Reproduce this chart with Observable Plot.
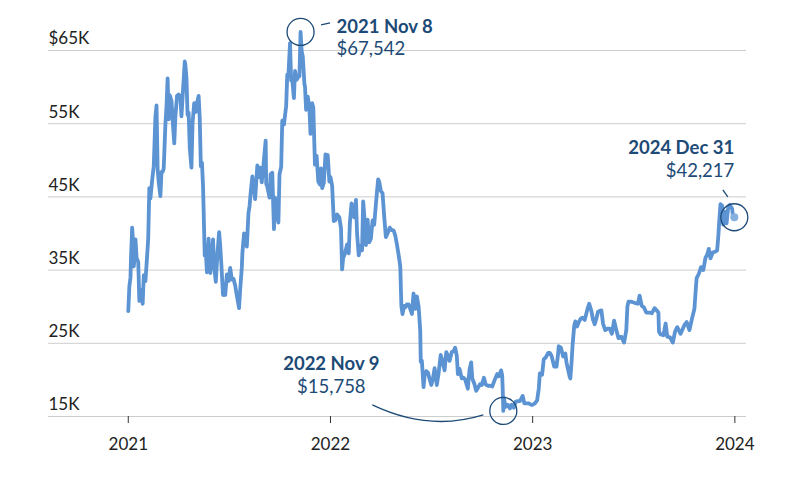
<!DOCTYPE html>
<html><head><meta charset="utf-8">
<script src="https://cdn.jsdelivr.net/npm/d3@7"></script>
<script src="https://cdn.jsdelivr.net/npm/@observablehq/plot@0.6"></script>
<style>html,body{margin:0;padding:0;background:#fff;}</style>
</head><body><div id="chart"></div>
<script>
// Daily-ish Bitcoin closing prices (USD)
const dates = [
"2021-01-01","2021-01-03","2021-01-05","2021-01-06","2021-01-08","2021-01-10","2021-01-11","2021-01-13","2021-01-14","2021-01-16","2021-01-19","2021-01-21","2021-01-23","2021-01-25","2021-01-27","2021-01-29",
"2021-02-01","2021-02-04","2021-02-06","2021-02-08","2021-02-10","2021-02-13","2021-02-16","2021-02-19","2021-02-21","2021-02-23","2021-02-25","2021-02-28",
"2021-03-02","2021-03-04","2021-03-06","2021-03-09","2021-03-11","2021-03-13","2021-03-15","2021-03-17","2021-03-20","2021-03-23","2021-03-25","2021-03-27","2021-03-30",
"2021-04-02","2021-04-05","2021-04-07","2021-04-10","2021-04-13","2021-04-14","2021-04-16","2021-04-18","2021-04-20","2021-04-22","2021-04-25","2021-04-27","2021-04-30",
"2021-05-03","2021-05-05","2021-05-08","2021-05-10","2021-05-12","2021-05-14","2021-05-16","2021-05-19","2021-05-21","2021-05-23","2021-05-26","2021-05-29",
"2021-06-01","2021-06-03","2021-06-05","2021-06-08","2021-06-11","2021-06-14","2021-06-16","2021-06-18","2021-06-21","2021-06-22","2021-06-25","2021-06-28",
"2021-07-01","2021-07-04","2021-07-07","2021-07-10","2021-07-13","2021-07-16","2021-07-20","2021-07-22","2021-07-25","2021-07-26","2021-07-29",
"2021-08-01","2021-08-03","2021-08-06","2021-08-08","2021-08-10","2021-08-13","2021-08-16","2021-08-18","2021-08-22","2021-08-24","2021-08-27","2021-08-30",
"2021-09-02","2021-09-06","2021-09-07","2021-09-09","2021-09-13","2021-09-15","2021-09-18","2021-09-20","2021-09-21","2021-09-23","2021-09-26","2021-09-29",
"2021-10-01","2021-10-04","2021-10-06","2021-10-09","2021-10-13","2021-10-15","2021-10-17","2021-10-20","2021-10-22","2021-10-24","2021-10-27","2021-10-29",
"2021-11-01","2021-11-04","2021-11-06","2021-11-08","2021-11-10","2021-11-12","2021-11-15","2021-11-16","2021-11-18","2021-11-21","2021-11-24","2021-11-26","2021-11-29",
"2021-12-01","2021-12-04","2021-12-07","2021-12-10","2021-12-13","2021-12-15","2021-12-17","2021-12-20","2021-12-23","2021-12-27","2021-12-30",
"2022-01-01","2022-01-04","2022-01-07","2022-01-10","2022-01-13","2022-01-17","2022-01-20","2022-01-22","2022-01-24","2022-01-27","2022-01-31",
"2022-02-03","2022-02-05","2022-02-08","2022-02-10","2022-02-13","2022-02-16","2022-02-18","2022-02-21","2022-02-24","2022-02-27",
"2022-03-01","2022-03-03","2022-03-06","2022-03-09","2022-03-12","2022-03-15","2022-03-18","2022-03-21","2022-03-24","2022-03-28","2022-03-30",
"2022-04-02","2022-04-05","2022-04-08","2022-04-11","2022-04-14","2022-04-18","2022-04-21","2022-04-25","2022-04-28",
"2022-05-01","2022-05-05","2022-05-07","2022-05-09","2022-05-11","2022-05-14","2022-05-16","2022-05-19","2022-05-22","2022-05-25","2022-05-28","2022-05-31",
"2022-06-03","2022-06-06","2022-06-09","2022-06-12","2022-06-13","2022-06-15","2022-06-18","2022-06-20","2022-06-23","2022-06-26","2022-06-29",
"2022-07-02","2022-07-05","2022-07-08","2022-07-12","2022-07-15","2022-07-19","2022-07-22","2022-07-26","2022-07-29",
"2022-08-01","2022-08-04","2022-08-08","2022-08-11","2022-08-14","2022-08-17","2022-08-19","2022-08-22","2022-08-26","2022-08-29",
"2022-09-01","2022-09-06","2022-09-09","2022-09-12","2022-09-14","2022-09-18","2022-09-21","2022-09-24","2022-09-28",
"2022-10-01","2022-10-05","2022-10-08","2022-10-12","2022-10-16","2022-10-20","2022-10-25","2022-10-29",
"2022-11-01","2022-11-05","2022-11-07","2022-11-08","2022-11-09","2022-11-10","2022-11-13","2022-11-17","2022-11-21","2022-11-24","2022-11-28",
"2022-12-01","2022-12-05","2022-12-09","2022-12-14","2022-12-17","2022-12-21","2022-12-25","2022-12-29",
"2023-01-01","2023-01-05","2023-01-09","2023-01-12","2023-01-14","2023-01-18","2023-01-21","2023-01-25","2023-01-29",
"2023-02-01","2023-02-04","2023-02-09","2023-02-13","2023-02-16","2023-02-17","2023-02-21","2023-02-25",
"2023-03-01","2023-03-03","2023-03-09","2023-03-10","2023-03-12","2023-03-14","2023-03-17","2023-03-19","2023-03-22","2023-03-26","2023-03-29",
"2023-04-01","2023-04-05","2023-04-10","2023-04-13","2023-04-17","2023-04-20","2023-04-23","2023-04-26","2023-04-29",
"2023-05-05","2023-05-08","2023-05-12","2023-05-16","2023-05-20","2023-05-24","2023-05-28",
"2023-06-01","2023-06-05","2023-06-10","2023-06-15","2023-06-19","2023-06-21","2023-06-23","2023-06-27",
"2023-07-01","2023-07-05","2023-07-10","2023-07-13","2023-07-17","2023-07-21","2023-07-25","2023-07-31",
"2023-08-04","2023-08-09","2023-08-14","2023-08-16","2023-08-17","2023-08-20","2023-08-25","2023-08-29",
"2023-09-01","2023-09-06","2023-09-11","2023-09-15","2023-09-19","2023-09-25","2023-09-29",
"2023-10-02","2023-10-06","2023-10-11","2023-10-16","2023-10-20","2023-10-23","2023-10-24","2023-10-28",
"2023-11-01","2023-11-05","2023-11-09","2023-11-12","2023-11-15","2023-11-18","2023-11-22","2023-11-26","2023-11-30",
"2023-12-02","2023-12-04","2023-12-06","2023-12-09","2023-12-11","2023-12-14","2023-12-17","2023-12-20","2023-12-23","2023-12-27","2023-12-29","2023-12-31"
];
const prices = [
29400,32800,34000,36800,40800,38400,35500,37300,39200,36700,36100,30800,32100,32300,30400,34300,
33500,36900,39300,46200,44800,47200,49200,55900,57500,48800,47000,45100,
48400,48400,48900,54900,57300,61200,55600,58900,58100,54500,52300,55900,58800,
59000,58700,56000,59800,63500,63100,61300,56200,56500,51700,49000,55000,57800,
56600,57800,58800,55800,49200,49700,46400,37000,37500,34700,39300,34600,
36700,39200,35500,33400,37300,40200,38300,35800,31600,32500,31600,34400,
33500,35300,33700,33800,32900,31500,29800,32300,35400,37300,40000,
39800,38200,42800,43800,45600,47800,46000,44700,49300,47700,49000,47000,
49300,52700,46800,46400,44900,48100,48300,43000,40600,44900,43200,41500,
48100,49100,55400,54900,57400,61700,61500,66000,60900,61000,58500,62200,
61000,61400,61500,67542,64900,64200,60400,60100,56900,58700,57100,53600,57800,
57200,49400,50600,47100,46700,48900,46200,46900,50800,50700,47100,
47700,46500,41700,41800,42600,42200,40700,35100,36700,37200,38500,
37300,41400,44100,43600,42200,44600,40000,37000,38300,37700,
44400,42500,38400,41900,38800,39300,41800,41200,44000,47400,47100,
45800,45500,42300,39500,40000,40800,40500,40400,39700,
38500,36600,35500,30100,29000,30100,29900,30300,30300,29700,29000,31800,
29700,31400,30100,26800,22500,22600,19000,20600,21200,21000,20100,
19300,20200,21600,19300,20800,23400,22600,21300,23800,
23300,22600,23800,23900,24400,23300,20800,21500,20200,20300,
20100,18800,21400,22400,20200,19400,18500,18900,19400,
19300,20300,19400,19200,19200,19100,20100,20800,
20500,21300,20600,18500,15758,17600,16300,16600,16100,16600,16200,
17000,17100,17100,17800,16800,16800,16800,16600,
16600,16800,17200,18800,20900,20700,22800,23100,23700,
23700,23300,21800,21800,23600,24600,24400,23200,
23600,22400,20400,20200,22200,24700,27400,28000,27300,28000,28400,
28500,28200,29700,30400,29400,28200,27600,28400,29300,
29500,27700,26800,27000,27000,26300,28100,
26800,25700,25900,25100,26800,30000,30700,30700,
30600,30500,30400,31500,30100,29900,29200,29200,
29100,29800,29400,29200,26600,26200,26100,27700,
25900,25800,25100,26600,27200,26300,27000,
27500,27900,26800,28500,29700,33000,33900,34500,
35400,35000,36700,37100,37900,36600,37400,37500,37700,
39500,41900,44000,43800,41200,43000,41400,43600,43900,43400,42100,42217
];
const yTicks = [15000, 25000, 35000, 45000, 55000, 65000];
const yearTicks = ["2021-01-01", "2022-01-01", "2023-01-01", "2024-01-01"];
const annDates = ["2021-11-08", "2022-11-09", "2023-12-31"];
const annValues = [67542, 15758, 42217];
const annTitles = ["2021 Nov 8", "2022 Nov 9", "2024 Dec 31"];
const annPrices = ["$67,542", "$15,758", "$42,217"];

const data = dates.map((d, i) => ({date: new Date(d), price: prices[i]}));
const ann = annDates.map((d, i) => ({date: new Date(d), price: annValues[i], title: annTitles[i], label: annPrices[i]}));

const navy = "#1d4a76";
const lineColor = "#5b93d3";
const FONT = "Lato, 'Open Sans', sans-serif";

// leader paths relative to each annotated point (pixel offsets)
const leaderPaths = [
  "M21,-6.5L30,-8.5",
  "M-130.5,-5.5Q-74,21.5 -19.5,4.5",
  "M-11,-27L-6,-20"
];
const leaders = (index, scales) => {
  const g = d3.create("svg:g").attr("fill", "none").attr("stroke", navy).attr("stroke-width", 1.3);
  ann.forEach((a, i) => {
    const px = scales.x(a.date), py = scales.y(a.price);
    g.append("path").attr("transform", `translate(${px},${py})`).attr("d", leaderPaths[i]);
  });
  return g.node();
};

const labelOpts = [
  {dx: 36, dyT: -4.5, dyP: 17.5, anchor: "start"},
  {dx: -172, dyT: -46.5, dyP: -23.8, anchor: "middle"},
  {dx: 0, dyT: -69, dyP: -46.3, anchor: "end"}
];

const chart = Plot.plot({
  width: 789,
  height: 483,
  marginLeft: 48,
  marginRight: 43,
  marginTop: 50,
  marginBottom: 67,
  style: {fontFamily: FONT, background: "#fff", overflow: "visible"},
  x: {type: "utc", domain: [new Date("2020-08-10"), new Date("2024-01-22")], axis: null},
  y: {domain: [15000, 65000], axis: null},
  marks: [
    Plot.gridY(yTicks, {stroke: "#cdcdcd", strokeOpacity: 1, strokeWidth: 1}),
    Plot.text(yTicks, {
      y: d => d, frameAnchor: "left", textAnchor: "start", dy: -11.5,
      text: d => (d === 65000 ? "$" : "") + d / 1000 + "K",
      fontSize: 17, fill: "#222", letterSpacing: 0.4
    }),
    Plot.axisX(yearTicks.map(d => new Date(d)), {
      tickSize: 7, tickPadding: 14, tickFormat: d => String(d.getUTCFullYear()),
      fontSize: 17, fill: "#222", stroke: "#333", label: null
    }),
    Plot.lineY(data, {x: "date", y: "price", stroke: lineColor, strokeWidth: 3.8, strokeLinejoin: "round", strokeLinecap: "round"}),
    Plot.dot(ann.slice(2), {x: "date", y: "price", r: 4, fill: "#86b0e0", stroke: "none"}),
    Plot.dot(ann, {x: "date", y: "price", r: 13.5, fill: "none", stroke: navy, strokeWidth: 1.3}),
    leaders,
    ...ann.map((a, i) => Plot.text([a], {
      x: "date", y: "price", text: "title", dx: labelOpts[i].dx, dy: labelOpts[i].dyT,
      textAnchor: labelOpts[i].anchor, fontWeight: "bold", fontSize: 18.5, fill: navy
    })),
    ...ann.map((a, i) => Plot.text([a], {
      x: "date", y: "price", text: "label", dx: labelOpts[i].dx, dy: labelOpts[i].dyP,
      textAnchor: labelOpts[i].anchor, fontSize: 18.5, fill: navy
    }))
  ]
});
document.getElementById("chart").appendChild(chart);
</script>
</body></html>
